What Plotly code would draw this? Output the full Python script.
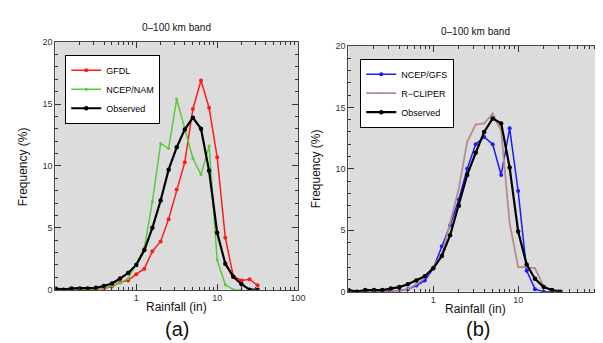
import plotly.graph_objects as go

# Rainfall bin centres (in), log spaced
rain = [0.1, 0.126, 0.158, 0.2, 0.251, 0.316, 0.398, 0.501, 0.631, 0.794,
        1.0, 1.26, 1.58, 2.0, 2.51, 3.16, 3.98, 5.01, 6.31, 7.94,
        10.0, 12.6, 15.8, 20.0, 25.1, 31.6]

# Panel (a)
gfdl = [0, 0, 0, 0, 0, 0.05, 0.1, 0.26, 0.6, 0.75, 1.25, 1.7, 3.1, 3.9, 5.7, 8.1,
        10.3, 14.6, 16.9, 14.7, 10.7, 4.2, 1.1, 0.75, 0.85, 0.35]
ncep_nam = [0, 0, 0, 0, 0, 0.05, 0.15, 0.3, 0.55, 0.9, 2.1, 3.4, 7.1, 11.8, 11.4, 15.4,
            13.0, 10.6, 9.3, 11.6, 2.4, 0.4, 0, 0, None, None]
observed_a = [0.1, 0.0, 0.1, 0.1, 0.1, 0.15, 0.3, 0.5, 0.9, 1.35, 2.0, 3.2, 5.0, 7.2, 9.7, 11.5,
              12.95, 13.9, 13.0, 9.6, 4.6, 2.1, 1.05, 0.45, 0.0, 0.0]

# Panel (b)
ncep_gfs = [0, 0, 0, 0, 0, 0.05, 0.1, 0.2, 0.5, 0.9, 1.9, 3.7, 5.4, 7.5, 10.0, 12.0,
            12.6, 12.0, 9.5, 13.3, 8.2, 1.7, 0.2, 0, 0, None]
r_cliper = [0, 0, 0, 0, 0, 0, 0.05, 0.2, 0.6, 1.1, 2.0, 3.0, 5.6, 8.4, 12.2, 13.6,
            13.7, 14.5, 13.1, 5.6, 2.0, 2.0, 1.9, 0.45, 0, 0]
observed_b = [0.13, 0, 0.13, 0.13, 0.13, 0.25, 0.37, 0.6, 0.9, 1.25, 1.9, 2.9, 4.6, 7.0, 9.5, 11.3,
              13.0, 14.1, 13.7, 10.1, 4.9, 2.2, 1.05, 0.37, 0.13, 0]

x_ticks = [1, 10, 100]
x_ticktext = ["1", "10", "100"]
y_ticks = [0, 5, 10, 15, 20]
x_minor = [v * m for m in (0.1, 1, 10) for v in range(2, 10)]
y_minor = list(range(0, 21))

FONT = "Liberation Sans, Arial, Helvetica, sans-serif"

fig = go.Figure()

def add(x, y, name, color, width, msize, xa, ya, legend):
    fig.add_trace(go.Scatter(
        x=x, y=y, name=name, mode="lines+markers",
        line=dict(color=color, width=width),
        marker=dict(color=color, size=msize),
        xaxis=xa, yaxis=ya, legend=legend, connectgaps=False))

add(rain, gfdl, "GFDL", "#ff1a1a", 1.5, 4, "x", "y", "legend")
add(rain, ncep_nam, "NCEP/NAM", "#5cc83c", 1.5, 3, "x", "y", "legend")
add(rain, observed_a, "Observed", "#000000", 2.2, 4.5, "x", "y", "legend")

add(rain, ncep_gfs, "NCEP/GFS", "#1a1aff", 1.5, 4, "x2", "y2", "legend2")
add(rain, r_cliper, "R\u2212CLIPER", "#b88c8c", 1.8, 2, "x2", "y2", "legend2")
add(rain, observed_b, "Observed", "#000000", 2.2, 4.5, "x2", "y2", "legend2")

W, H = 603, 343

def xax(domain):
    return dict(type="log", range=[-1, 2], domain=domain, tickvals=x_ticks, ticktext=x_ticktext,
                ticks="inside", ticklen=6, tickcolor="#333", mirror="allticks",
                showline=True, linecolor="#444", linewidth=1, showgrid=False, zeroline=False,
                tickfont=dict(size=9, color="#333", family=FONT),
                minor=dict(tickvals=x_minor, ticks="inside", ticklen=3, tickcolor="#333", showgrid=False))

def yax(domain, anchor):
    return dict(range=[0, 20], domain=domain, anchor=anchor, tickvals=y_ticks,
                ticks="inside", ticklen=6, tickcolor="#333", mirror="allticks",
                showline=True, linecolor="#444", linewidth=1, showgrid=False, zeroline=False,
                tickfont=dict(size=9, color="#333", family=FONT),
                minor=dict(tickvals=y_minor, ticks="inside", ticklen=3, tickcolor="#333", showgrid=False))

lx = xax([48 / W, 294 / W]); lx["anchor"] = "y"
rx = xax([345 / W, 1.0]); rx["anchor"] = "y2"
ly = yax([1 - 285 / H, 1 - 30 / H], "x")
ry = yax([1 - 287 / H, 1 - 34 / H], "x2")

legend_style = dict(bgcolor="white", bordercolor="black", borderwidth=1,
                    font=dict(size=9, color="black", family=FONT),
                    xanchor="left", yanchor="top", tracegroupgap=0, itemwidth=30)

def note(text, x, y, size, angle=0):
    return dict(text=text, x=x / W, y=1 - y / H, xref="paper", yref="paper",
                xanchor="center", yanchor="middle", textangle=angle,
                showarrow=False, font=dict(size=size, color="#111", family=FONT))

fig.update_layout(
    width=W, height=H, margin=dict(l=0, r=0, t=0, b=0),
    paper_bgcolor="white", plot_bgcolor="#dcdcdc",
    font=dict(family=FONT),
    xaxis=lx, yaxis=ly, xaxis2=rx, yaxis2=ry,
    legend=dict(x=58 / W, y=1 - 43 / H, **legend_style),
    legend2=dict(x=357 / W, y=1 - 47 / H, **legend_style),
    annotations=[
        note("0\u2013100 km band", 171, 15, 10),
        note("0\u2013100 km band", 474, 19, 10),
        note("Rainfall (in)", 171, 303, 12),
        note("Rainfall (in)", 474, 305, 12),
        note("Frequency (%)", 16, 158, 12, -90),
        note("Frequency (%)", 312, 160, 12, -90),
        note("(a)", 171, 325, 20),
        note("(b)", 476, 325, 20),
    ],
)

fig.write_html("out.html")
